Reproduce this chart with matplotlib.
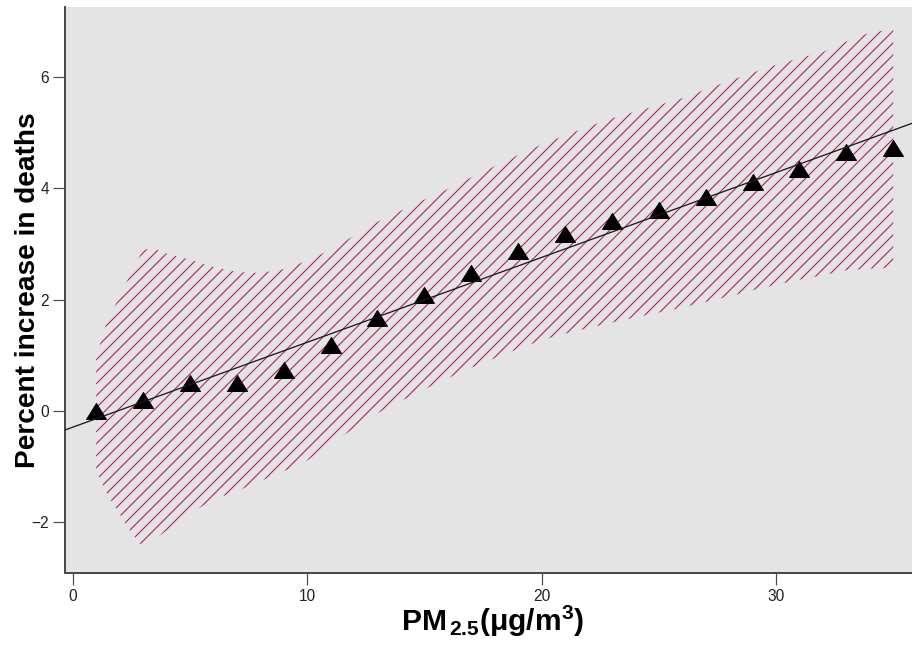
import matplotlib
matplotlib.use("Agg")
import matplotlib.pyplot as plt
from matplotlib import font_manager
from matplotlib.path import Path

# ---------------- data ----------------
pm_x = [1, 3, 5, 7, 9, 11, 13, 15, 17, 19, 21, 23, 25, 27, 29, 31, 33, 35]
pct_increase = [0.0, 0.2, 0.5, 0.51, 0.73, 1.18, 1.67, 2.08, 2.48, 2.87,
                3.18, 3.41, 3.61, 3.85, 4.11, 4.35, 4.65, 4.72]

band_x = [1, 1.5, 2, 2.5, 3, 3.5, 4, 5, 6, 7, 8, 9, 10, 11, 12, 13, 14, 15,
          16, 17, 18, 19, 20, 21, 22, 23, 24, 25, 26, 27, 28, 29, 30, 31, 32,
          33, 34, 35]
band_upper = [0.98, 1.66, 2.05, 2.5, 2.9, 2.92, 2.83, 2.72, 2.59, 2.5, 2.48,
              2.55, 2.7, 2.9, 3.15, 3.4, 3.6, 3.8, 3.99, 4.2, 4.4, 4.6, 4.79,
              4.95, 5.11, 5.26, 5.38, 5.5, 5.62, 5.78, 5.93, 6.08, 6.22, 6.34,
              6.45, 6.64, 6.8, 6.86]
band_lower = [-1.06, -1.52, -1.85, -2.19, -2.45, -2.3, -2.15, -1.84, -1.59,
              -1.44, -1.26, -1.08, -0.89, -0.59, -0.31, -0.04, 0.18, 0.39,
              0.59, 0.78, 0.95, 1.12, 1.27, 1.39, 1.49, 1.59, 1.68, 1.77,
              1.86, 1.96, 2.06, 2.17, 2.27, 2.36, 2.44, 2.53, 2.56, 2.57]

fit_intercept = -0.29
fit_slope = 0.1525

x_ticks = [0, 10, 20, 30]
y_ticks = [-2, 0, 2, 4, 6]

# ---------------- fonts ----------------
names = {f.name for f in font_manager.fontManager.ttflist}
narrow = 'Liberation Sans Narrow' in names
base_font = 'Liberation Sans Narrow' if narrow else 'Liberation Sans'
plt.rcParams['font.family'] = [base_font, 'DejaVu Sans']
plt.rcParams['mathtext.fontset'] = 'custom'
plt.rcParams['mathtext.rm'] = base_font
plt.rcParams['mathtext.bf'] = base_font + ':bold'
plt.rcParams['mathtext.it'] = base_font + ':italic'
plt.rcParams['hatch.linewidth'] = 1.1

tick_size = 18 if narrow else 15.5
ylab_size = 33 if narrow else 28
xlab_size = 34 if narrow else 30

# ---------------- figure ----------------
DPI = 72
fig = plt.figure(figsize=(912 / DPI, 651 / DPI), dpi=DPI, facecolor='white')
ax = fig.add_axes([65 / 912, 1 - 573 / 651, 1 - 65 / 912, (573 - 7) / 651])
ax.set_facecolor('#e4e4e4')

hatch_color = '#b01e68'
ax.fill_between(band_x, band_lower, band_upper, facecolor='none',
                edgecolor=hatch_color, hatch='//', linewidth=0, zorder=2)

tri = Path([(-1.0, -0.8), (1.0, -0.8), (0.0, 0.8), (-1.0, -0.8)],
           [Path.MOVETO, Path.LINETO, Path.LINETO, Path.CLOSEPOLY])
ax.plot(pm_x, pct_increase, linestyle='none', marker=tri, markersize=20,
        color='black', zorder=3)

ax.axline((0, fit_intercept), slope=fit_slope, color='#1a1a1a',
          linewidth=1.3, zorder=4)

ax.set_xlim(-0.33, 35.8)
ax.set_ylim(-2.91, 7.26)
ax.set_xticks(x_ticks)
ax.set_yticks(y_ticks)

for s in ['top', 'right']:
    ax.spines[s].set_visible(False)
for s in ['left', 'bottom']:
    ax.spines[s].set_color('#4a4a4a')
    ax.spines[s].set_linewidth(2)

ax.tick_params(axis='both', direction='out', length=12, width=1.2,
               color='#4a4a4a', labelsize=tick_size, labelcolor='#222222',
               pad=4)

ax.set_ylabel('Percent increase in deaths', fontsize=ylab_size,
              fontweight='bold', va='center', ha='center')
ax.yaxis.set_label_coords((28 - 65) / 845, 0.5)

ax.set_xlabel(r'$\mathbf{PM}_{\,\mathbf{2.5}}\mathbf{(\mu g/m}^{\mathbf{3}}\mathbf{)}$',
              fontsize=xlab_size, va='center', ha='center')
ax.xaxis.set_label_coords((492 - 65) / 845, (573 - 621) / 566)

fig.savefig('out.png', dpi=DPI, facecolor='white')
